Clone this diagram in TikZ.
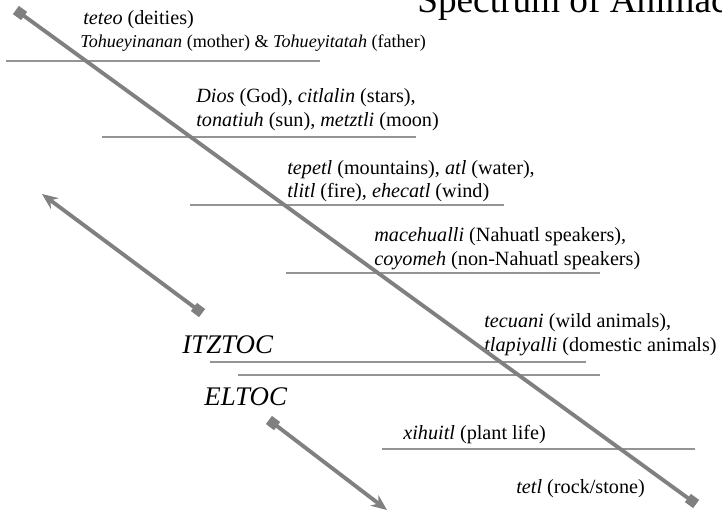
\documentclass[tikz,border=0pt]{standalone}
\usepackage{fontspec}
\setmainfont{Liberation Serif}
\usetikzlibrary{arrows.meta}

\begin{document}
\begin{tikzpicture}[x=0.02cm,y=-0.02cm,
    txt/.style={anchor=base west,inner sep=0pt,font=\fontsize{11.5}{13}\selectfont},
    big/.style={anchor=base west,inner sep=0pt,font=\fontsize{15.3}{18}\selectfont\itshape},
    bar/.style={draw=black!42,line width=0.7pt},
    spine/.style={draw=black!50,line width=2.2pt},
    knob/.style={fill=black!50,minimum size=5.8pt,inner sep=0pt}]
  \useasboundingbox (0,0) rectangle (722,515);

  \node[anchor=base west,inner sep=0pt,font=\fontsize{21.2}{24}\selectfont] (title) at (417,12) {Spectrum of Animacy};

  \node[txt] (teteo) at (83,24) {\textit{teteo} (deities)};
  \node[txt,font=\fontsize{10.3}{13}\selectfont] (parents) at (80,47) {\textit{Tohueyinanan} (mother) \& \textit{Tohueyitatah} (father)};
  \node[txt] (dios) at (196,102) {\textit{Dios} (God), \textit{citlalin} (stars),};
  \node[txt] (sun) at (196,126) {\textit{tonatiuh} (sun), \textit{metztli} (moon)};
  \node[txt] (tepetl) at (287,174) {\textit{tepetl} (mountains), \textit{atl} (water),};
  \node[txt] (tlitl) at (287,197) {\textit{tlitl} (fire), \textit{ehecatl} (wind)};
  \node[txt] (mace) at (374,241) {\textit{macehualli} (Nahuatl speakers),};
  \node[txt] (coyo) at (374,265) {\textit{coyomeh} (non-Nahuatl speakers)};
  \node[txt] (tecuani) at (484,327) {\textit{tecuani} (wild animals),};
  \node[txt] (tlapi) at (484,351) {\textit{tlapiyalli} (domestic animals)};
  \node[txt] (xihuitl) at (403,439) {\textit{xihuitl} (plant life)};
  \node[txt] (tetl) at (516,493) {\textit{tetl} (rock/stone)};

  \node[big] (itztoc) at (182,353) {ITZTOC};
  \node[big] (eltoc) at (204,405) {ELTOC};

  \draw[bar] (6,61) -- (320,61);
  \draw[bar] (102,137) -- (416,137);
  \draw[bar] (190,205) -- (504,205);
  \draw[bar] (286,273) -- (600,273);
  \draw[bar] (210,362) -- (586,362);
  \draw[bar] (238,375) -- (600,375);
  \draw[bar] (382,449) -- (695,449);

  \node[knob,rotate=-36] (k1) at (20,13) {};
  \node[knob,rotate=-36] (k2) at (692,501) {};
  \node[knob,rotate=-37] (k3) at (198,310) {};
  \node[knob,rotate=-37] (k4) at (273,423) {};
  \coordinate (up) at (42,194);
  \coordinate (down) at (387,510);

  \draw[spine] (k1.center) -- (k2.center);
  \draw[spine,-{Stealth[length=9pt,width=7.5pt]}] (k3.center) -- (up);
  \draw[spine,-{Stealth[length=9pt,width=7.5pt]}] (k4.center) -- (down);
\end{tikzpicture}
\end{document}
